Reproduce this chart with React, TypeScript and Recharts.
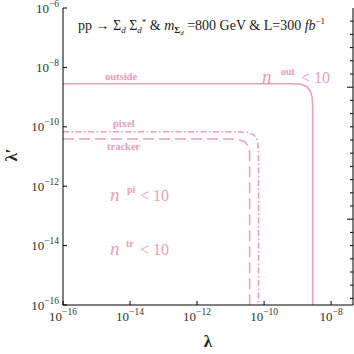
import { LineChart, Line, XAxis, YAxis } from 'recharts';

const FONT = '"Liberation Serif", "DejaVu Serif", serif';
const PINK = '#F09BBA';
const INK = '#333333';

// axis ticks (log decades)
const xTicks = [1e-16, 1e-14, 1e-12, 1e-10, 1e-8];
const yTicks = [1e-16, 1e-14, 1e-12, 1e-10, 1e-8, 1e-6];
// unlabeled frame ticks on the top / right edges (in their own linear units)
const topTicks = [0.25, 1.25, 2.25, 3.25, 4.25, 5.25, 6.25, 7.25, 8.25, 9.25, 10.25, 11.25, 12.25, 13.25, 14.25, 15.25, 16.25, 17.25];
const rightTicks = [0.5, 1.5, 2.5, 3.5, 4.5, 5.5, 6.5, 7.5, 8.5, 9.5, 10.5, 11.5, 12.5, 13.5, 14.5, 15.5, 16.5, 17.5, 18.5, 19.5, 20.5, 21.5];
const rightLongTicks = [6.5, 16.5];

// n = 10 contours
const outsideX = [1e-16, 6.3e-10, 1.26e-9, 1.9e-9, 2.4e-9, 2.7e-9, 2.82e-9, 2.82e-9];
const outsideY = [2.82e-9, 2.82e-9, 2.7e-9, 2.24e-9, 1.58e-9, 1e-9, 5e-10, 1e-16];
const pixelX = [1e-16, 1.6e-11, 3.2e-11, 4.8e-11, 6e-11, 6.6e-11, 6.8e-11, 6.8e-11];
const pixelY = [6.8e-11, 6.8e-11, 6.5e-11, 5.5e-11, 4e-11, 2.5e-11, 1.2e-11, 1e-16];
const trackerX = [1e-16, 8.9e-12, 1.8e-11, 2.7e-11, 3.4e-11, 3.7e-11, 3.7e-11, 3.7e-11];
const trackerY = [3.9e-11, 3.9e-11, 3.7e-11, 3.1e-11, 2.2e-11, 1.3e-11, 6e-12, 1e-16];

const zip = (xs: number[], ys: number[]) => xs.map((x, i) => ({ x, y: ys[i] }));

const expOf = (v: number) => Math.round(Math.log10(v));

function BottomTick({ x, y, payload }: any) {
  const e = expOf(payload.value);
  return (
    <g>
      <line x1={x} x2={x} y1={y} y2={y - 4} stroke="#000" />
      <text x={x} y={y + 16} textAnchor="middle" fontFamily={FONT} fill={INK}>
        <tspan fontSize={13}>10</tspan>
        <tspan fontSize={9.5} dy={-6}>{'\u2212' + -e}</tspan>
      </text>
    </g>
  );
}

function LeftTick({ x, y, payload }: any) {
  const e = expOf(payload.value);
  return (
    <g>
      <line x1={x} x2={x + 4} y1={y} y2={y} stroke="#000" />
      <text x={x - 4} y={y + 4.5} textAnchor="end" fontFamily={FONT} fill={INK}>
        <tspan fontSize={13}>10</tspan>
        <tspan fontSize={9.5} dy={-6}>{'\u2212' + -e}</tspan>
      </text>
    </g>
  );
}

function TopTick({ x, y }: any) {
  return <line x1={x} x2={x} y1={y} y2={y + 3} stroke="#000" />;
}

function RightTick({ x, y, payload }: any) {
  const len = rightLongTicks.includes(payload.value) ? 6 : 3;
  return <line x1={x} x2={x - len} y1={y} y2={y} stroke="#000" />;
}

// "n^sup < 10" annotation
function NLabel({ x, y, sup, supX, restX }: { x: number; y: number; sup: string; supX: number; restX: number }) {
  return (
    <g fill={PINK}>
      <text x={x} y={y} fontSize={19} fontStyle="italic">n</text>
      <text x={supX} y={y - 8} fontSize={10} fontWeight="bold">{sup}</text>
      <text x={restX} y={y} fontSize={16}>{'< 10'}</text>
    </g>
  );
}

export default function App() {
  return (
    <div style={{ position: 'absolute', left: 0, top: 0, width: 354, height: 354, background: '#fff' }}>
      <LineChart width={354} height={354} margin={{ top: 8, right: 0, left: 0, bottom: 0 }}>
        <XAxis
          dataKey="x"
          type="number"
          scale="log"
          domain={[1e-16, 4.5e-8]}
          ticks={xTicks}
          interval={0}
          allowDataOverflow
          height={49}
          tickLine={false}
          tickSize={0}
          tickMargin={0}
          axisLine={{ stroke: '#000' }}
          tick={<BottomTick />}
        />
        <XAxis
          xAxisId="top"
          orientation="top"
          type="number"
          domain={[0, 17.36]}
          ticks={topTicks}
          interval={0}
          allowDataOverflow
          height={0}
          tickLine={false}
          tickSize={0}
          tickMargin={0}
          axisLine={{ stroke: '#000' }}
          tick={<TopTick />}
        />
        <YAxis
          type="number"
          scale="log"
          domain={[1e-16, 1e-6]}
          ticks={yTicks}
          interval={0}
          allowDataOverflow
          width={63}
          tickLine={false}
          tickSize={0}
          tickMargin={0}
          axisLine={{ stroke: '#000' }}
          tick={<LeftTick />}
        />
        <YAxis
          yAxisId="right"
          orientation="right"
          type="number"
          domain={[0, 22.5]}
          ticks={rightTicks}
          interval={0}
          allowDataOverflow
          width={1}
          tickLine={false}
          tickSize={0}
          tickMargin={0}
          axisLine={{ stroke: '#000' }}
          tick={<RightTick />}
        />
        <Line data={zip(outsideX, outsideY)} dataKey="y" stroke={PINK} strokeWidth={1.5} dot={false} isAnimationActive={false} />
        <Line data={zip(pixelX, pixelY)} dataKey="y" stroke={PINK} strokeWidth={1.5} strokeDasharray="6 2.5 1.5 2.5" dot={false} isAnimationActive={false} />
        <Line data={zip(trackerX, trackerY)} dataKey="y" stroke={PINK} strokeWidth={1.5} strokeDasharray="11 5" dot={false} isAnimationActive={false} />
      </LineChart>
      <svg width={354} height={354} style={{ position: 'absolute', left: 0, top: 0, pointerEvents: 'none' }} fontFamily={FONT}>
        <text x={78} y={30} fontSize={14} fill="#222">
          <tspan>{'pp \u2192 \u03A3'}</tspan>
          <tspan fontSize={9} fontStyle="italic" dy={3}>d</tspan>
          <tspan dy={-3}>{' \u03A3'}</tspan>
          <tspan fontSize={9} fontStyle="italic" dy={3}>d</tspan>
          <tspan fontSize={9} dy={-8}>*</tspan>
          <tspan dy={5}>{' & '}</tspan>
          <tspan fontStyle="italic">m</tspan>
          <tspan fontSize={9} fontWeight="bold" dy={3}>{'\u03A3'}</tspan>
          <tspan fontSize={7} fontStyle="italic" dy={2}>d</tspan>
          <tspan dy={-5}>{' =800 GeV & L=300 '}</tspan>
          <tspan fontStyle="italic">fb</tspan>
          <tspan fontSize={9} dy={-6}>{'\u22121'}</tspan>
        </text>
        <g fill={PINK}>
          <text x={105} y={80} fontSize={10.5} fontWeight="bold">outside</text>
          <text x={113} y={127} fontSize={10.5} fontWeight="bold">pixel</text>
          <text x={107} y={150} fontSize={10.5} fontWeight="bold">tracker</text>
        </g>
        <NLabel x={262} y={83} sup="out" supX={281} restX={301} />
        <NLabel x={110} y={201} sup="pi" supX={127} restX={140} />
        <NLabel x={110} y={255} sup="tr" supX={126} restX={140} />
        <text x={208} y={347} fontSize={17} fontWeight="bold" textAnchor="middle" fill="#222">{'\u03BB'}</text>
        <text transform="translate(17,155) rotate(-90)" fontSize={17} fontWeight="bold" textAnchor="middle" fill="#222">{'\u03BB\u2032'}</text>
      </svg>
    </div>
  );
}
